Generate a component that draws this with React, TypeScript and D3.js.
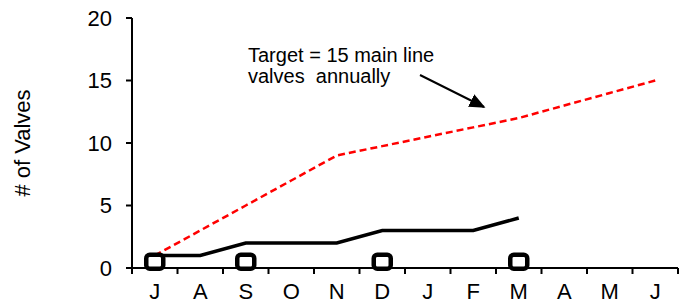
import { useMemo } from "react";
import * as d3 from "d3";

const WIDTH = 691;
const HEIGHT = 305;
const MARGIN = { top: 18, right: 13, bottom: 37, left: 132 };

const months = ["J", "A", "S", "O", "N", "D", "J", "F", "M", "A", "M", "J"];
const targetValues = [1, 3, 5, 7, 9, 9.75, 10.5, 11.25, 12, 13, 14, 15];
const actualValues = [1, 1, 2, 2, 2, 3, 3, 3, 4];
const markerMonths = [0, 2, 5, 8];
const markerValue = 0.5;
const yTicks = [0, 5, 10, 15, 20];

const FONT = "'Liberation Sans', Arial, sans-serif";

export default function App() {
  const boundsWidth = WIDTH - MARGIN.left - MARGIN.right;
  const boundsHeight = HEIGHT - MARGIN.top - MARGIN.bottom;

  const keys = months.map((_, i) => String(i));

  const xScale = useMemo(
    () => d3.scaleBand().domain(keys).range([0, boundsWidth]).padding(0),
    [boundsWidth]
  );
  const yScale = useMemo(
    () => d3.scaleLinear().domain([0, 20]).range([boundsHeight, 0]),
    [boundsHeight]
  );

  const cx = (i: number) => (xScale(String(i)) ?? 0) + xScale.bandwidth() / 2;

  const line = d3
    .line<number>()
    .x((_, i) => cx(i))
    .y((d) => yScale(d));

  const targetPath = line(targetValues) ?? "";
  const actualPath = line(actualValues) ?? "";

  // tick positions on the band boundaries
  const xTicks = d3.range(months.length + 1).map((i) => i * xScale.bandwidth());

  return (
    <svg
      width={WIDTH}
      height={HEIGHT}
      style={{ position: "absolute", left: 0, top: 0, fontFamily: FONT }}
    >
      <defs>
        <marker
          id="arrow"
          viewBox="0 0 10 10"
          refX="9"
          refY="5"
          markerWidth="8"
          markerHeight="7"
          markerUnits="strokeWidth"
          orient="auto"
          preserveAspectRatio="none"
        >
          <path d="M0,0 L10,5 L0,10 z" fill="#000" />
        </marker>
      </defs>

      <text
        transform={`translate(30,${MARGIN.top + boundsHeight / 2}) rotate(-90)`}
        textAnchor="middle"
        fontSize={22}
        fill="#000"
      >
        # of Valves
      </text>

      <g transform={`translate(${MARGIN.left},${MARGIN.top})`}>
        {/* y axis */}
        <line x1={0} x2={0} y1={0} y2={boundsHeight} stroke="#000" strokeWidth={2} />
        {yTicks.map((t) => (
          <g key={t} transform={`translate(0,${yScale(t)})`}>
            <line x1={-6} x2={0} stroke="#000" strokeWidth={2} />
            <text x={-20} dy="0.36em" textAnchor="end" fontSize={22} fill="#000">
              {t}
            </text>
          </g>
        ))}

        {/* x axis */}
        <line x1={0} x2={boundsWidth} y1={boundsHeight} y2={boundsHeight} stroke="#000" strokeWidth={2} />
        {xTicks.map((x, i) => (
          <line key={i} x1={x} x2={x} y1={boundsHeight} y2={boundsHeight + 6} stroke="#000" strokeWidth={2} />
        ))}
        {months.map((m, i) => (
          <text
            key={i}
            x={cx(i)}
            y={boundsHeight + 31}
            textAnchor="middle"
            fontSize={22}
            fill="#000"
          >
            {m}
          </text>
        ))}

        {/* target line */}
        <path d={targetPath} fill="none" stroke="#ff0000" strokeWidth={2.5} strokeDasharray="7,4" />

        {/* actual line */}
        <path d={actualPath} fill="none" stroke="#000" strokeWidth={3.5} />

        {/* markers */}
        {markerMonths.map((i) => (
          <rect
            key={i}
            x={cx(i) - 8.5}
            y={yScale(markerValue) - 7}
            width={17}
            height={14}
            rx={3.5}
            fill="#fff"
            stroke="#000"
            strokeWidth={4.5}
          />
        ))}
      </g>

      {/* annotation */}
      <text x={248} y={62} fontSize={20} fill="#000">
        Target = 15 main line
      </text>
      <text x={248} y={83} fontSize={20} fill="#000" style={{ whiteSpace: "pre" }}>
        {"valves  annually"}
      </text>
      <line x1={420} y1={75} x2={484} y2={107} stroke="#000" strokeWidth={2} markerEnd="url(#arrow)" />
    </svg>
  );
}
